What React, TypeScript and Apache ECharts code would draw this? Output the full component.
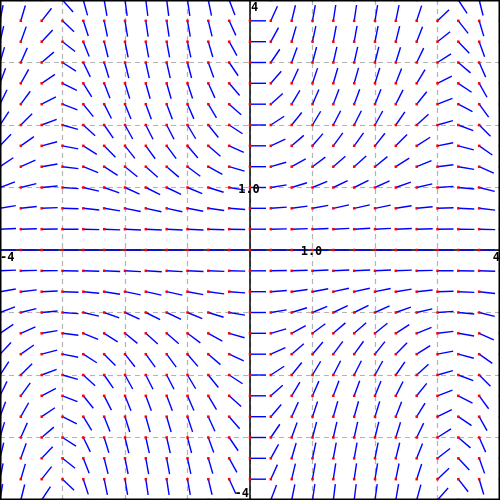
import React, { useEffect, useRef } from "react";
import * as echarts from "echarts";

// Sample points of the direction field (every 1/3 unit)
const gridX = [-4, -3.667, -3.333, -3, -2.667, -2.333, -2, -1.667, -1.333, -1, -0.667, -0.333, 0,
  0.333, 0.667, 1, 1.333, 1.667, 2, 2.333, 2.667, 3, 3.333, 3.667, 4];
const gridY = [-4, -3.667, -3.333, -3, -2.667, -2.333, -2, -1.667, -1.333, -1, -0.667, -0.333, 0,
  0.333, 0.667, 1, 1.333, 1.667, 2, 2.333, 2.667, 3, 3.333, 3.667, 4];

// The differential equation whose direction field is plotted: dy/dx = y^2 * sin(x) / 2
const slopeAt = (x: number, y: number) => (y * y * Math.sin(x)) / 2;

// Axis labels
const labelTexts = ["4", "1.0", "1.0", "-4", "4", "-4"];
const labelX = [0, 0, 1, -4, 4, 0];
const labelY = [4, 1, 0, 0, 0, -4];

const axisMin = -4;
const axisMax = 4;
const axisStep = 1;

export default function App() {
  const ref = useRef<HTMLDivElement>(null);
  useEffect(() => {
    if (!ref.current) return;
    const chart = echarts.init(ref.current, undefined, { renderer: "svg" });

    const fieldData: number[][] = [];
    for (const x of gridX) {
      for (const y of gridY) {
        fieldData.push([x, y, slopeAt(x, y)]);
      }
    }
    const labelData = labelTexts.map((t, i) => [labelX[i], labelY[i], i]);

    // label placement styles (align, vAlign, dx, dy)
    const labelStyle: [string, string, number, number][] = [
      ["left", "middle", 1, 7],
      ["center", "middle", -1, 1],
      ["center", "middle", -1, 1],
      ["left", "middle", 0, 7],
      ["right", "middle", 0, 7],
      ["right", "middle", -1, -7],
    ];

    const axisCommon = {
      type: "value" as const,
      min: axisMin,
      max: axisMax,
      interval: axisStep,
      axisLabel: { show: false },
      axisTick: { show: false },
      axisLine: { show: true, onZero: true, lineStyle: { color: "#000", width: 1.5 } },
      splitLine: { show: true, lineStyle: { color: "#b4b4b4", type: [5, 4] as any, width: 1.2 } },
    };

    chart.setOption({
      animation: false,
      grid: { left: 0, right: 0, top: 0, bottom: 0, show: true, borderColor: "#000", borderWidth: 0, backgroundColor: "#fff" },
      xAxis: axisCommon,
      yAxis: axisCommon,
      graphic: [
        {
          type: "rect",
          z: 100,
          silent: true,
          shape: { x: 0.75, y: 0.75, width: 498.5, height: 498.5 },
          style: { fill: "none", stroke: "#000", lineWidth: 1.5 },
        },
      ],
      series: [
        {
          type: "custom",
          clip: true,
          data: fieldData,
          renderItem: (params: any, api: any) => {
            const x = api.value(0);
            const y = api.value(1);
            const m = api.value(2);
            const p = api.coord([x, y]);
            const q = api.coord([x + 1, y + m]);
            let dx = q[0] - p[0];
            let dy = q[1] - p[1];
            const len = Math.hypot(dx, dy) || 1;
            const L = 16;
            dx = (dx / len) * L;
            dy = (dy / len) * L;
            return {
              type: "group",
              children: [
                {
                  type: "line",
                  shape: { x1: p[0], y1: p[1], x2: p[0] + dx, y2: p[1] + dy },
                  style: { stroke: "#0000ff", lineWidth: 1.4 },
                },
                {
                  type: "rect",
                  shape: { x: p[0] - 1.25, y: p[1] - 1.25, width: 2.5, height: 2.5 },
                  style: { fill: "#ff0000" },
                },
              ],
            };
          },
          z: 3,
        },
        {
          type: "custom",
          clip: false,
          data: labelData,
          renderItem: (params: any, api: any) => {
            const i = api.value(2);
            const p = api.coord([api.value(0), api.value(1)]);
            const s = labelStyle[i];
            return {
              type: "text",
              x: p[0] + s[2],
              y: p[1] + s[3],
              style: {
                text: labelTexts[i],
                fill: "#000",
                font: "bold 12px 'DejaVu Sans Mono', monospace",
                align: s[0],
                verticalAlign: s[1],
              },
            };
          },
          z: 5,
        },
      ],
    });
    return () => chart.dispose();
  }, []);
  return <div ref={ref} style={{ position: "fixed", left: 0, top: 0, width: 500, height: 500 }} />;
}
